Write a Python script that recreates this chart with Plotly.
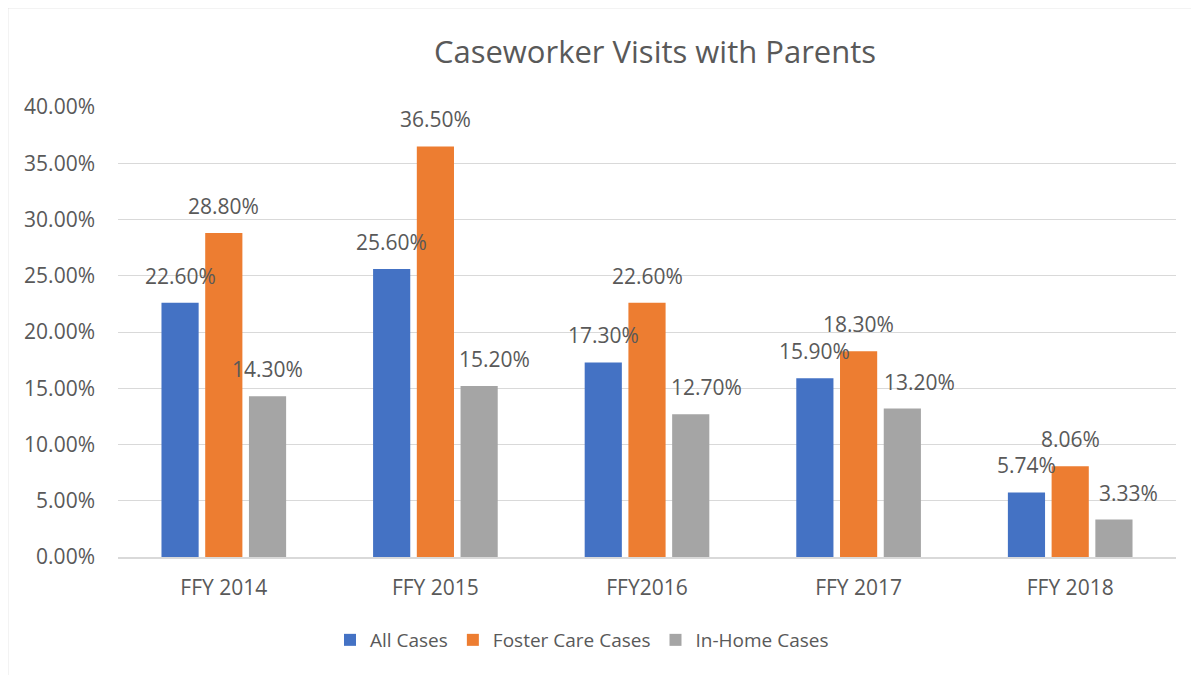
import plotly.graph_objects as go

categories = ["FFY 2014", "FFY 2015", "FFY2016", "FFY 2017", "FFY 2018"]
all_cases = [22.60, 25.60, 17.30, 15.90, 5.74]
foster_care = [28.80, 36.50, 22.60, 18.30, 8.06]
in_home = [14.30, 15.20, 12.70, 13.20, 3.33]
series_names = ["All Cases", "Foster Care Cases", "In-Home Cases"]
y_ticks = [0, 5, 10, 15, 20, 25, 30, 35, 40]

colors = ["#4472C4", "#ED7D31", "#A5A5A5"]
text_color = "#595959"
font_family = "Open Sans, Liberation Sans, sans-serif"

series = [all_cases, foster_care, in_home]
fig = go.Figure()
for name, vals, col in zip(series_names, series, colors):
    fig.add_trace(go.Bar(x=categories, y=vals, name=name, marker_color=col,
                         marker_line_width=0))

# label horizontal nudges (style only) for gray series, as in original
label_nudge = [[0] * 5, [0] * 5, [0, 15, 16, 17, 15]]
slot = 43.7
for si, vals in enumerate(series):
    for ci, v in enumerate(vals):
        fig.add_annotation(x=categories[ci], y=v, xref="x", yref="y",
                           text=f"{v:.2f}%", showarrow=False,
                           yanchor="bottom", xanchor="center",
                           xshift=(si - 1) * slot + label_nudge[si][ci], yshift=11,
                           font=dict(size=21, color=text_color, family=font_family))

# page body has an 8px margin, so figure coords = window coords - 8
OFF = 8
W, H = 1199 - OFF, 675 - OFF
L, R, T, B = 118 - OFF, 23, 107 - OFF, 118
pw, ph = W - L - R, H - T - B
fig.add_shape(type="rect", xref="paper", yref="paper",
              x0=(7.5 - OFF - L) / pw, x1=(W + 20 - L) / pw,
              y0=(H - B - (H + 20)) / ph, y1=(H - B - (7.5 - OFF)) / ph,
              line=dict(color="#D0D0D0", width=1.5), layer="below")

fig.update_layout(
    width=W, height=H,
    margin=dict(l=L, r=R, t=T, b=B),
    plot_bgcolor="white", paper_bgcolor="white",
    title=dict(text="Caseworker Visits with Parents", x=(655 - OFF) / W, xanchor="center",
               y=1 - (52 - OFF) / H, yanchor="middle",
               font=dict(size=31, color=text_color, family=font_family)),
    barmode="group", bargap=0.38, bargroupgap=0.15,
    font=dict(family=font_family, color=text_color),
    legend=dict(orientation="h", x=(582 - OFF - L) / pw, xanchor="center",
                y=(H - B - (640 - OFF)) / ph, yanchor="middle",
                font=dict(size=19, color=text_color, family=font_family),
                itemwidth=30, traceorder="normal"),
    showlegend=True,
)
fig.update_yaxes(range=[0, 40], tickvals=y_ticks,
                 ticktext=[f"{t:.2f}%" for t in y_ticks],
                 showgrid=True, gridcolor="#D9D9D9", gridwidth=1,
                 zeroline=False, showline=False, ticks="", ticklabelstandoff=22,
                 tickfont=dict(size=21, color=text_color, family=font_family))
fig.update_xaxes(showline=True, linecolor="#D9D9D9", linewidth=2,
                 ticks="", tickfont=dict(size=21, color=text_color, family=font_family),
                 ticklabelstandoff=11)

fig.write_html("out.html")
